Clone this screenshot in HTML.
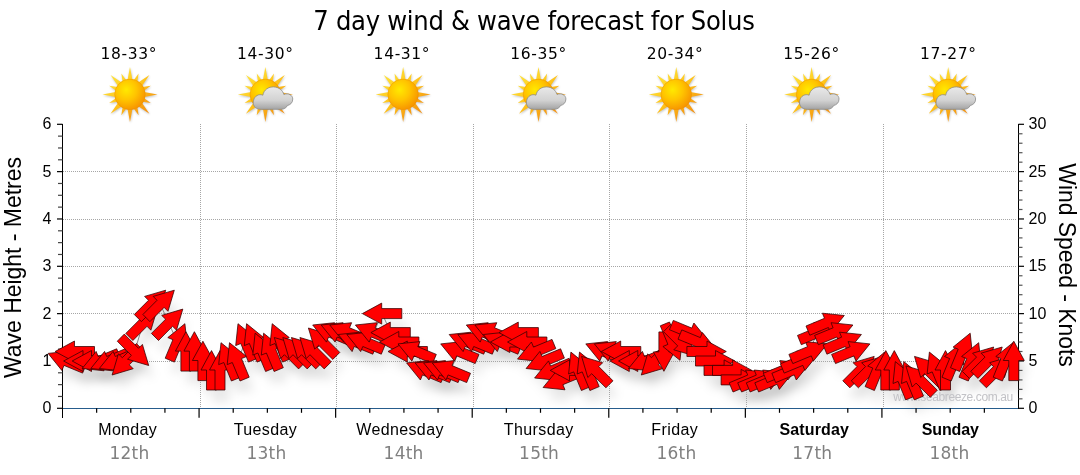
<!DOCTYPE html>
<html lang="en"><head><meta charset="utf-8"><title>7 day wind &amp; wave forecast for Solus</title>
<style>
html,body{margin:0;padding:0;background:#fff;}
body{width:1080px;height:475px;overflow:hidden;}
svg{display:block;}
text{font-family:"Liberation Sans",Arial,sans-serif;fill:#000;}
.v{font-family:"DejaVu Sans",Verdana,"Liberation Sans",sans-serif;}
.t{font-family:"DejaVu Sans Condensed","DejaVu Sans",Tahoma,"Liberation Sans",sans-serif;}
</style></head><body>
<svg width="1080" height="475" viewBox="0 0 1080 475">
<defs>
<radialGradient id="sg" cx="0.38" cy="0.35" r="0.75">
<stop offset="0" stop-color="#ffe900"/><stop offset="0.45" stop-color="#ffc400"/><stop offset="1" stop-color="#f58a00"/>
</radialGradient>
<linearGradient id="rg" x1="0.15" y1="0.1" x2="0.85" y2="0.9">
<stop offset="0" stop-color="#ffe63a"/><stop offset="0.5" stop-color="#ffc21a"/><stop offset="1" stop-color="#f28a10"/>
</linearGradient>
<linearGradient id="cg" x1="0" y1="0" x2="0" y2="1">
<stop offset="0" stop-color="#e9e9e9"/><stop offset="0.6" stop-color="#d2d2d2"/><stop offset="1" stop-color="#a4a4a4"/>
</linearGradient>
<filter id="sh" x="-5%" y="-50%" width="110%" height="220%">
<feGaussianBlur stdDeviation="5"/>
</filter>
<clipPath id="pc"><rect x="63" y="100" width="1017" height="375"/></clipPath>
<filter id="ish" x="-30%" y="-30%" width="160%" height="160%">
<feGaussianBlur stdDeviation="1.2"/>
</filter>

<g id="sun"><polygon points="-2.75,-12.91 0,-27.5 2.75,-12.91 2.79,-12.9 8.61,-20.79 7.15,-11.09 7.18,-11.07 19.45,-19.45 11.07,-7.18 11.09,-7.15 20.79,-8.61 12.9,-2.79 12.91,-2.75 27.5,0 12.91,2.75 12.9,2.79 20.79,8.61 11.09,7.15 11.07,7.18 19.45,19.45 7.18,11.07 7.15,11.09 8.61,20.79 2.79,12.9 2.75,12.91 0,27.5 -2.75,12.91 -2.79,12.9 -8.61,20.79 -7.15,11.09 -7.18,11.07 -19.45,19.45 -11.07,7.18 -11.09,7.15 -20.79,8.61 -12.9,2.79 -12.91,2.75 -27.5,0 -12.91,-2.75 -12.9,-2.79 -20.79,-8.61 -11.09,-7.15 -11.07,-7.18 -19.45,-19.45 -7.18,-11.07 -7.15,-11.09 -8.61,-20.79 -2.79,-12.9" fill="#000" opacity="0.25" filter="url(#ish)" transform="translate(0.5,1)"/><polygon points="-2.75,-12.91 0,-27.5 2.75,-12.91 2.79,-12.9 8.61,-20.79 7.15,-11.09 7.18,-11.07 19.45,-19.45 11.07,-7.18 11.09,-7.15 20.79,-8.61 12.9,-2.79 12.91,-2.75 27.5,0 12.91,2.75 12.9,2.79 20.79,8.61 11.09,7.15 11.07,7.18 19.45,19.45 7.18,11.07 7.15,11.09 8.61,20.79 2.79,12.9 2.75,12.91 0,27.5 -2.75,12.91 -2.79,12.9 -8.61,20.79 -7.15,11.09 -7.18,11.07 -19.45,19.45 -11.07,7.18 -11.09,7.15 -20.79,8.61 -12.9,2.79 -12.91,2.75 -27.5,0 -12.91,-2.75 -12.9,-2.79 -20.79,-8.61 -11.09,-7.15 -11.07,-7.18 -19.45,-19.45 -7.18,-11.07 -7.15,-11.09 -8.61,-20.79 -2.79,-12.9" fill="url(#rg)"/><circle r="15.3" fill="url(#sg)" stroke="#e88a00" stroke-width="0.4"/></g>
<g id="cloud"><path d="M-9,15.3 C-15.5,15.3 -17.5,10 -16.3,6.5 C-15.5,2 -11,-0.5 -7,1.2 C-6,-4.5 -1,-7.3 3.8,-7.1 C9,-7 13,-3.5 14,0.5 C18.5,-1.5 23,1.5 22.9,5 C23,9 20,11 17.5,11.5 C16.5,14 14,15.3 11,15.3 Z" fill="url(#cg)" stroke="#8c8c8c" stroke-width="0.8"/></g>
</defs>
<rect width="1080" height="475" fill="#fff"/>
<text class="t" x="313.3" y="29.6" font-size="27" textLength="441.5" lengthAdjust="spacing">7 day wind &amp; wave forecast for Solus</text>
<text class="v" x="100.49" y="59" font-size="15.5" textLength="56" lengthAdjust="spacing">18-33°</text>
<use href="#sun" x="129.98" y="94.4"/>
<text class="v" x="237.06" y="59" font-size="15.5" textLength="56" lengthAdjust="spacing">14-30°</text>
<use href="#sun" x="265.36" y="94.4"/>
<use href="#cloud" x="269.86" y="94"/>
<text class="v" x="373.62" y="59" font-size="15.5" textLength="56" lengthAdjust="spacing">14-31°</text>
<use href="#sun" x="403.12" y="94.4"/>
<text class="v" x="510.19" y="59" font-size="15.5" textLength="56" lengthAdjust="spacing">16-35°</text>
<use href="#sun" x="538.5" y="94.4"/>
<use href="#cloud" x="543" y="94"/>
<text class="v" x="646.76" y="59" font-size="15.5" textLength="56" lengthAdjust="spacing">20-34°</text>
<use href="#sun" x="676.26" y="94.4"/>
<text class="v" x="783.33" y="59" font-size="15.5" textLength="56" lengthAdjust="spacing">15-26°</text>
<use href="#sun" x="811.63" y="94.4"/>
<use href="#cloud" x="816.13" y="94"/>
<text class="v" x="919.9" y="59" font-size="15.5" textLength="56" lengthAdjust="spacing">17-27°</text>
<use href="#sun" x="948.2" y="94.4"/>
<use href="#cloud" x="952.7" y="94"/>
<g clip-path="url(#pc)"><g transform="translate(5,12.5)" filter="url(#sh)" fill="#000" fill-opacity="0.075"><polygon points="48.1,353.4 70,351.1 67.9,356.2 86.4,363.8 82.6,373.1 64,365.4 61.9,370.5"/><polygon points="55.1,351.5 74.5,341 74.5,346.5 94.5,346.5 94.5,356.5 74.5,356.5 74.5,362"/><polygon points="63.6,361 83,350.5 83,356 103,356 103,366 83,366 83,371.5"/><polygon points="72.2,361 91.5,350.5 91.5,356 111.6,356 111.6,366 91.5,366 91.5,371.5"/><polygon points="82.2,368.5 96.1,351.4 98.2,356.5 116.7,348.8 120.5,358.1 102,365.8 104.1,370.8"/><polygon points="90.8,368.5 104.6,351.4 106.7,356.5 125.2,348.8 129.1,358.1 110.5,365.8 112.6,370.8"/><polygon points="99.3,368.5 113.1,351.4 115.3,356.5 133.8,348.8 137.6,358.1 119.1,365.8 121.2,370.8"/><polygon points="112.1,375 118.4,353.9 122.3,357.7 136.4,343.6 143.5,350.6 129.3,364.8 133.2,368.7"/><polygon points="148.7,365.5 127.5,359.2 131.4,355.4 117.3,341.2 124.3,334.1 138.5,348.3 142.4,344.4"/><polygon points="157.2,309.1 150.9,330.2 147,326.3 132.9,340.5 125.8,333.4 140,319.2 136.1,315.4"/><polygon points="165.7,290.2 159.5,311.3 155.6,307.4 141.4,321.6 134.3,314.5 148.5,300.3 144.6,296.4"/><polygon points="174.3,290.2 168,311.3 164.1,307.4 149.9,321.6 142.9,314.5 157,300.3 153.2,296.4"/><polygon points="182.8,309.1 176.5,330.2 172.6,326.3 158.5,340.5 151.4,333.4 165.6,319.2 161.7,315.4"/><polygon points="184.9,323.7 187.2,345.6 182.1,343.5 174.4,362.1 165.2,358.2 172.9,339.7 167.8,337.6"/><polygon points="185.9,331.7 196.4,351.1 190.9,351.1 190.9,371.1 180.9,371.1 180.9,351.1 175.4,351.1"/><polygon points="194.4,331.7 204.9,351.1 199.4,351.1 199.4,371.1 189.4,371.1 189.4,351.1 183.9,351.1"/><polygon points="202.9,341.2 213.4,360.5 207.9,360.5 207.9,380.6 197.9,380.6 197.9,360.5 192.4,360.5"/><polygon points="211.5,350.6 222,370 216.5,370 216.5,390 206.5,390 206.5,370 201,370"/><polygon points="220,350.6 230.5,370 225,370 225,390 215,390 215,370 209.5,370"/><polygon points="221,342.7 238.1,356.5 233,358.6 240.7,377.2 231.4,381 223.8,362.5 218.7,364.6"/><polygon points="229.5,342.7 246.6,356.5 241.5,358.6 249.2,377.2 240,381 232.3,362.5 227.2,364.6"/><polygon points="238,323.7 255.1,337.6 250.1,339.7 257.7,358.2 248.5,362.1 240.8,343.5 235.7,345.6"/><polygon points="246.6,323.7 263.7,337.6 258.6,339.7 266.3,358.2 257,362.1 249.4,343.5 244.3,345.6"/><polygon points="255.1,333.2 272.2,347.1 267.1,349.2 274.8,367.7 265.6,371.5 257.9,353 252.8,355.1"/><polygon points="263.6,333.2 280.8,347.1 275.7,349.2 283.3,367.7 274.1,371.5 266.4,353 261.3,355.1"/><polygon points="272.2,323.7 289.3,337.6 284.2,339.7 291.9,358.2 282.6,362.1 275,343.5 269.9,345.6"/><polygon points="274.3,337.5 295.4,343.8 291.5,347.6 305.7,361.8 298.6,368.9 284.4,354.7 280.6,358.6"/><polygon points="282.8,337.5 303.9,343.8 300,347.6 314.2,361.8 307.2,368.9 293,354.7 289.1,358.6"/><polygon points="291.4,337.5 312.5,343.8 308.6,347.6 322.8,361.8 315.7,368.9 301.5,354.7 297.6,358.6"/><polygon points="299.9,337.5 321,343.8 317.1,347.6 331.3,361.8 324.2,368.9 310,354.7 306.2,358.6"/><polygon points="308.4,328 329.5,334.3 325.7,338.2 339.8,352.4 332.8,359.4 318.6,345.3 314.7,349.1"/><polygon points="312.7,325 334.6,322.7 332.5,327.8 351,335.4 347.2,344.7 328.6,337 326.5,342.1"/><polygon points="321.2,325 343.1,322.7 341,327.8 359.5,335.4 355.7,344.7 337.2,337 335.1,342.1"/><polygon points="329.8,325 351.6,322.7 349.5,327.8 368.1,335.4 364.2,344.7 345.7,337 343.6,342.1"/><polygon points="338.3,334.5 360.2,332.2 358.1,337.2 376.6,344.9 372.8,354.2 354.2,346.5 352.1,351.6"/><polygon points="346.8,334.5 368.7,332.2 366.6,337.2 385.1,344.9 381.3,354.2 362.8,346.5 360.7,351.6"/><polygon points="355.4,325 377.3,322.7 375.1,327.8 393.7,335.4 389.8,344.7 371.3,337 369.2,342.1"/><polygon points="362.4,313.6 381.7,303.1 381.7,308.6 401.8,308.6 401.8,318.6 381.7,318.6 381.7,324.1"/><polygon points="370.9,332.6 390.3,322.1 390.3,327.6 410.3,327.6 410.3,337.6 390.3,337.6 390.3,343.1"/><polygon points="379.5,342 398.8,331.5 398.8,337 418.9,337 418.9,347 398.8,347 398.8,352.5"/><polygon points="388,351.5 407.3,341 407.3,346.5 427.4,346.5 427.4,356.5 407.3,356.5 407.3,362"/><polygon points="398,343.9 419.9,341.6 417.8,346.7 436.3,354.4 432.5,363.6 414,355.9 411.9,361"/><polygon points="406.6,362.9 428.5,360.6 426.4,365.6 444.9,373.3 441.1,382.6 422.5,374.9 420.4,380"/><polygon points="415.1,362.9 437,360.6 434.9,365.6 453.4,373.3 449.6,382.6 431.1,374.9 429,380"/><polygon points="423.6,362.9 445.5,360.6 443.4,365.6 462,373.3 458.1,382.6 439.6,374.9 437.5,380"/><polygon points="432.2,362.9 454.1,360.6 452,365.6 470.5,373.3 466.7,382.6 448.1,374.9 446,380"/><polygon points="440.7,343.9 462.6,341.6 460.5,346.7 479,354.4 475.2,363.6 456.7,355.9 454.6,361"/><polygon points="449.2,334.5 471.1,332.2 469,337.2 487.6,344.9 483.7,354.2 465.2,346.5 463.1,351.6"/><polygon points="457.8,334.5 479.7,332.2 477.6,337.2 496.1,344.9 492.3,354.2 473.7,346.5 471.6,351.6"/><polygon points="466.3,325 488.2,322.7 486.1,327.8 504.6,335.4 500.8,344.7 482.3,337 480.2,342.1"/><polygon points="474.9,325 496.8,322.7 494.6,327.8 513.2,335.4 509.3,344.7 490.8,337 488.7,342.1"/><polygon points="483.4,334.5 505.3,332.2 503.2,337.2 521.7,344.9 517.9,354.2 499.4,346.5 497.3,351.6"/><polygon points="490.4,342 509.8,331.5 509.8,337 529.8,337 529.8,347 509.8,347 509.8,352.5"/><polygon points="499,332.6 518.3,322.1 518.3,327.6 538.4,327.6 538.4,337.6 518.3,337.6 518.3,343.1"/><polygon points="507.5,342 526.8,331.5 526.8,337 546.9,337 546.9,347 526.8,347 526.8,352.5"/><polygon points="517.5,359.1 531.4,342 533.5,347.1 552,339.4 555.8,348.6 537.3,356.3 539.4,361.4"/><polygon points="526.1,368.5 539.9,351.4 542,356.5 560.6,348.8 564.4,358.1 545.9,365.8 548,370.8"/><polygon points="534.6,378 548.5,360.9 550.6,366 569.1,358.3 572.9,367.6 554.4,375.2 556.5,380.3"/><polygon points="543.1,387.5 557,370.4 559.1,375.5 577.6,367.8 581.5,377 562.9,384.7 565,389.8"/><polygon points="550.2,370.4 569.5,359.9 569.5,365.4 589.6,365.4 589.6,375.4 569.5,375.4 569.5,380.9"/><polygon points="570.9,352.1 588,366 583,368.1 590.6,386.6 581.4,390.5 573.7,371.9 568.6,374"/><polygon points="579.5,352.1 596.6,366 591.5,368.1 599.2,386.6 589.9,390.5 582.2,371.9 577.2,374"/><polygon points="581.6,356.4 602.7,362.7 598.8,366.6 613,380.8 605.9,387.8 591.7,373.7 587.8,377.5"/><polygon points="585.8,343.9 607.7,341.6 605.6,346.7 624.1,354.4 620.3,363.6 601.8,355.9 599.7,361"/><polygon points="594.4,343.9 616.3,341.6 614.1,346.7 632.7,354.4 628.8,363.6 610.3,355.9 608.2,361"/><polygon points="601.4,351.5 620.7,341 620.7,346.5 640.8,346.5 640.8,356.5 620.7,356.5 620.7,362"/><polygon points="609.9,361 629.3,350.5 629.3,356 649.3,356 649.3,366 629.3,366 629.3,371.5"/><polygon points="618.5,361 637.8,350.5 637.8,356 657.9,356 657.9,366 637.8,366 637.8,371.5"/><polygon points="628.5,368.5 642.4,351.4 644.5,356.5 663,348.8 666.8,358.1 648.3,365.8 650.4,370.8"/><polygon points="641.3,375 647.6,353.9 651.5,357.7 665.6,343.6 672.7,350.6 658.5,364.8 662.4,368.7"/><polygon points="663.9,371.3 653.4,351.9 658.9,351.9 658.9,331.9 668.9,331.9 668.9,351.9 674.4,351.9"/><polygon points="680,360.3 662.9,346.5 667.9,344.4 660.3,325.8 669.5,322 677.2,340.5 682.3,338.4"/><polygon points="694.9,356 673.8,349.8 677.7,345.9 663.5,331.7 670.6,324.6 684.8,338.8 688.7,334.9"/><polygon points="707.8,340.1 685.9,342.4 688,337.4 669.4,329.7 673.3,320.4 691.8,328.1 693.9,323"/><polygon points="716.3,349.6 694.4,351.9 696.5,346.8 678,339.2 681.8,329.9 700.3,337.6 702.4,332.5"/><polygon points="726.3,351.5 707,362 707,356.5 686.9,356.5 686.9,346.5 707,346.5 707,341"/><polygon points="734.9,361 715.5,371.5 715.5,366 695.5,366 695.5,356 715.5,356 715.5,350.5"/><polygon points="743.4,370.4 724.1,380.9 724.1,375.4 704,375.4 704,365.4 724.1,365.4 724.1,359.9"/><polygon points="751.9,370.4 732.6,380.9 732.6,375.4 712.5,375.4 712.5,365.4 732.6,365.4 732.6,359.9"/><polygon points="760.5,379.9 741.1,390.4 741.1,384.9 721.1,384.9 721.1,374.9 741.1,374.9 741.1,369.4"/><polygon points="767.5,372.3 753.7,389.4 751.5,384.3 733,392 729.2,382.8 747.7,375.1 745.6,370"/><polygon points="776,372.3 762.2,389.4 760.1,384.3 741.6,392 737.7,382.8 756.3,375.1 754.2,370"/><polygon points="784.6,372.3 770.7,389.4 768.6,384.3 750.1,392 746.3,382.8 764.8,375.1 762.7,370"/><polygon points="793.1,372.3 779.3,389.4 777.2,384.3 758.6,392 754.8,382.8 773.3,375.1 771.2,370"/><polygon points="801.7,362.9 787.8,380 785.7,374.9 767.2,382.6 763.3,373.3 781.9,365.6 779.8,360.6"/><polygon points="810.2,362.9 796.3,380 794.2,374.9 775.7,382.6 771.9,373.3 790.4,365.6 788.3,360.6"/><polygon points="818.7,353.4 804.9,370.5 802.8,365.4 784.2,373.1 780.4,363.8 798.9,356.2 796.8,351.1"/><polygon points="827.3,343.9 813.4,361 811.3,355.9 792.8,363.6 788.9,354.4 807.5,346.7 805.4,341.6"/><polygon points="835.8,325 821.9,342.1 819.8,337 801.3,344.7 797.5,335.4 816,327.8 813.9,322.7"/><polygon points="844.3,315.5 830.5,332.6 828.4,327.5 809.8,335.2 806,326 824.5,318.3 822.4,313.2"/><polygon points="852.9,325 839,342.1 836.9,337 818.4,344.7 814.6,335.4 833.1,327.8 831,322.7"/><polygon points="861.4,334.5 847.5,351.6 845.4,346.5 826.9,354.2 823.1,344.9 841.6,337.2 839.5,332.2"/><polygon points="869.9,343.9 856.1,361 854,355.9 835.5,363.6 831.6,354.4 850.1,346.7 848,341.6"/><polygon points="874.2,356.4 867.9,377.5 864,373.7 849.9,387.8 842.8,380.8 857,366.6 853.1,362.7"/><polygon points="882.7,356.4 876.5,377.5 872.6,373.7 858.4,387.8 851.3,380.8 865.5,366.6 861.6,362.7"/><polygon points="884.8,352.1 887.1,374 882,371.9 874.4,390.5 865.1,386.6 872.8,368.1 867.7,366"/><polygon points="885.8,350.6 896.3,370 890.8,370 890.8,390 880.8,390 880.8,370 875.3,370"/><polygon points="894.3,350.6 904.8,370 899.3,370 899.3,390 889.3,390 889.3,370 883.8,370"/><polygon points="895.3,361.6 912.4,375.5 907.3,377.6 915,396.1 905.7,399.9 898.1,381.4 893,383.5"/><polygon points="903.8,361.6 920.9,375.5 915.8,377.6 923.5,396.1 914.3,399.9 906.6,381.4 901.5,383.5"/><polygon points="905.9,365.9 927,372.2 923.1,376 937.3,390.2 930.3,397.3 916.1,383.1 912.2,387"/><polygon points="914.5,356.4 935.6,362.7 931.7,366.6 945.9,380.8 938.8,387.8 924.6,373.7 920.7,377.5"/><polygon points="929.4,352.1 946.5,366 941.4,368.1 949.1,386.6 939.9,390.5 932.2,371.9 927.1,374"/><polygon points="945.5,350.6 956,370 950.5,370 950.5,390 940.5,390 940.5,370 935,370"/><polygon points="961.6,342.7 963.9,364.6 958.9,362.5 951.2,381 942,377.2 949.6,358.6 944.5,356.5"/><polygon points="970.2,333.2 972.5,355.1 967.4,353 959.7,371.5 950.5,367.7 958.2,349.2 953.1,347.1"/><polygon points="978.7,342.7 981,364.6 975.9,362.5 968.3,381 959,377.2 966.7,358.6 961.6,356.5"/><polygon points="993.7,347 987.4,368.1 983.5,364.2 969.4,378.4 962.3,371.3 976.5,357.1 972.6,353.2"/><polygon points="1002.2,347 996,368.1 992.1,364.2 977.9,378.4 970.8,371.3 985,357.1 981.1,353.2"/><polygon points="1010.8,356.4 1004.5,377.5 1000.6,373.7 986.4,387.8 979.4,380.8 993.5,366.6 989.6,362.7"/><polygon points="1012.9,342.7 1015.2,364.6 1010.1,362.5 1002.4,381 993.2,377.2 1000.8,358.6 995.8,356.5"/><polygon points="1013.8,341.2 1024.3,360.5 1018.8,360.5 1018.8,380.6 1008.8,380.6 1008.8,360.5 1003.3,360.5"/></g></g>
<g stroke="#a6a6a6" stroke-width="1" stroke-dasharray="1 1" fill="none" shape-rendering="crispEdges"><line x1="63" y1="171.5" x2="1017" y2="171.5"/><line x1="63" y1="219.5" x2="1017" y2="219.5"/><line x1="63" y1="266.5" x2="1017" y2="266.5"/><line x1="63" y1="313.5" x2="1017" y2="313.5"/><line x1="63" y1="361.5" x2="1017" y2="361.5"/><line x1="200.5" y1="124" x2="200.5" y2="408"/><line x1="336.5" y1="124" x2="336.5" y2="408"/><line x1="473.5" y1="124" x2="473.5" y2="408"/><line x1="609.5" y1="124" x2="609.5" y2="408"/><line x1="746.5" y1="124" x2="746.5" y2="408"/><line x1="883.5" y1="124" x2="883.5" y2="408"/></g>
<g stroke-width="1" fill="none" shape-rendering="crispEdges"><line x1="62.5" y1="124" x2="62.5" y2="418" stroke="#000"/><line x1="1018.5" y1="124" x2="1018.5" y2="409" stroke="#000"/><line x1="63" y1="408.5" x2="1018" y2="408.5" stroke="#265c8c"/></g>
<g stroke-width="1.2" fill="none"><line x1="57" y1="408.3" x2="62.5" y2="408.3" stroke="#000"/><line x1="58" y1="396.47" x2="62.5" y2="396.47" stroke="#444"/><line x1="58" y1="384.63" x2="62.5" y2="384.63" stroke="#444"/><line x1="58" y1="372.8" x2="62.5" y2="372.8" stroke="#444"/><line x1="57" y1="360.97" x2="62.5" y2="360.97" stroke="#000"/><line x1="58" y1="349.13" x2="62.5" y2="349.13" stroke="#444"/><line x1="58" y1="337.3" x2="62.5" y2="337.3" stroke="#444"/><line x1="58" y1="325.47" x2="62.5" y2="325.47" stroke="#444"/><line x1="57" y1="313.63" x2="62.5" y2="313.63" stroke="#000"/><line x1="58" y1="301.8" x2="62.5" y2="301.8" stroke="#444"/><line x1="58" y1="289.97" x2="62.5" y2="289.97" stroke="#444"/><line x1="58" y1="278.13" x2="62.5" y2="278.13" stroke="#444"/><line x1="57" y1="266.3" x2="62.5" y2="266.3" stroke="#000"/><line x1="58" y1="254.47" x2="62.5" y2="254.47" stroke="#444"/><line x1="58" y1="242.63" x2="62.5" y2="242.63" stroke="#444"/><line x1="58" y1="230.8" x2="62.5" y2="230.8" stroke="#444"/><line x1="57" y1="218.97" x2="62.5" y2="218.97" stroke="#000"/><line x1="58" y1="207.13" x2="62.5" y2="207.13" stroke="#444"/><line x1="58" y1="195.3" x2="62.5" y2="195.3" stroke="#444"/><line x1="58" y1="183.47" x2="62.5" y2="183.47" stroke="#444"/><line x1="57" y1="171.63" x2="62.5" y2="171.63" stroke="#000"/><line x1="58" y1="159.8" x2="62.5" y2="159.8" stroke="#444"/><line x1="58" y1="147.97" x2="62.5" y2="147.97" stroke="#444"/><line x1="58" y1="136.13" x2="62.5" y2="136.13" stroke="#444"/><line x1="57" y1="124.3" x2="62.5" y2="124.3" stroke="#000"/><line x1="1018.49" y1="408.3" x2="1023.99" y2="408.3" stroke="#000"/><line x1="1018.49" y1="398.83" x2="1022.49" y2="398.83" stroke="#555"/><line x1="1018.49" y1="389.37" x2="1022.49" y2="389.37" stroke="#555"/><line x1="1018.49" y1="379.9" x2="1022.49" y2="379.9" stroke="#555"/><line x1="1018.49" y1="370.43" x2="1022.49" y2="370.43" stroke="#555"/><line x1="1018.49" y1="360.97" x2="1023.99" y2="360.97" stroke="#000"/><line x1="1018.49" y1="351.5" x2="1022.49" y2="351.5" stroke="#555"/><line x1="1018.49" y1="342.03" x2="1022.49" y2="342.03" stroke="#555"/><line x1="1018.49" y1="332.57" x2="1022.49" y2="332.57" stroke="#555"/><line x1="1018.49" y1="323.1" x2="1022.49" y2="323.1" stroke="#555"/><line x1="1018.49" y1="313.63" x2="1023.99" y2="313.63" stroke="#000"/><line x1="1018.49" y1="304.17" x2="1022.49" y2="304.17" stroke="#555"/><line x1="1018.49" y1="294.7" x2="1022.49" y2="294.7" stroke="#555"/><line x1="1018.49" y1="285.23" x2="1022.49" y2="285.23" stroke="#555"/><line x1="1018.49" y1="275.77" x2="1022.49" y2="275.77" stroke="#555"/><line x1="1018.49" y1="266.3" x2="1023.99" y2="266.3" stroke="#000"/><line x1="1018.49" y1="256.83" x2="1022.49" y2="256.83" stroke="#555"/><line x1="1018.49" y1="247.37" x2="1022.49" y2="247.37" stroke="#555"/><line x1="1018.49" y1="237.9" x2="1022.49" y2="237.9" stroke="#555"/><line x1="1018.49" y1="228.43" x2="1022.49" y2="228.43" stroke="#555"/><line x1="1018.49" y1="218.97" x2="1023.99" y2="218.97" stroke="#000"/><line x1="1018.49" y1="209.5" x2="1022.49" y2="209.5" stroke="#555"/><line x1="1018.49" y1="200.03" x2="1022.49" y2="200.03" stroke="#555"/><line x1="1018.49" y1="190.57" x2="1022.49" y2="190.57" stroke="#555"/><line x1="1018.49" y1="181.1" x2="1022.49" y2="181.1" stroke="#555"/><line x1="1018.49" y1="171.63" x2="1023.99" y2="171.63" stroke="#000"/><line x1="1018.49" y1="162.17" x2="1022.49" y2="162.17" stroke="#555"/><line x1="1018.49" y1="152.7" x2="1022.49" y2="152.7" stroke="#555"/><line x1="1018.49" y1="143.23" x2="1022.49" y2="143.23" stroke="#555"/><line x1="1018.49" y1="133.77" x2="1022.49" y2="133.77" stroke="#555"/><line x1="1018.49" y1="124.3" x2="1023.99" y2="124.3" stroke="#000"/><line x1="96.64" y1="408.3" x2="96.64" y2="412.8" stroke="#000"/><line x1="130.78" y1="408.3" x2="130.78" y2="412.8" stroke="#000"/><line x1="164.93" y1="408.3" x2="164.93" y2="412.8" stroke="#000"/><line x1="199.07" y1="408.3" x2="199.07" y2="417.8" stroke="#000"/><line x1="233.21" y1="408.3" x2="233.21" y2="412.8" stroke="#000"/><line x1="267.36" y1="408.3" x2="267.36" y2="412.8" stroke="#000"/><line x1="301.5" y1="408.3" x2="301.5" y2="412.8" stroke="#000"/><line x1="335.64" y1="408.3" x2="335.64" y2="417.8" stroke="#000"/><line x1="369.78" y1="408.3" x2="369.78" y2="412.8" stroke="#000"/><line x1="403.92" y1="408.3" x2="403.92" y2="412.8" stroke="#000"/><line x1="438.07" y1="408.3" x2="438.07" y2="412.8" stroke="#000"/><line x1="472.21" y1="408.3" x2="472.21" y2="417.8" stroke="#000"/><line x1="506.35" y1="408.3" x2="506.35" y2="412.8" stroke="#000"/><line x1="540.5" y1="408.3" x2="540.5" y2="412.8" stroke="#000"/><line x1="574.64" y1="408.3" x2="574.64" y2="412.8" stroke="#000"/><line x1="608.78" y1="408.3" x2="608.78" y2="417.8" stroke="#000"/><line x1="642.92" y1="408.3" x2="642.92" y2="412.8" stroke="#000"/><line x1="677.06" y1="408.3" x2="677.06" y2="412.8" stroke="#000"/><line x1="711.21" y1="408.3" x2="711.21" y2="412.8" stroke="#000"/><line x1="745.35" y1="408.3" x2="745.35" y2="417.8" stroke="#000"/><line x1="779.49" y1="408.3" x2="779.49" y2="412.8" stroke="#000"/><line x1="813.63" y1="408.3" x2="813.63" y2="412.8" stroke="#000"/><line x1="847.78" y1="408.3" x2="847.78" y2="412.8" stroke="#000"/><line x1="881.92" y1="408.3" x2="881.92" y2="417.8" stroke="#000"/><line x1="916.06" y1="408.3" x2="916.06" y2="412.8" stroke="#000"/><line x1="950.2" y1="408.3" x2="950.2" y2="412.8" stroke="#000"/><line x1="984.35" y1="408.3" x2="984.35" y2="412.8" stroke="#000"/></g>
<text x="51.5" y="413.3" font-size="16" text-anchor="end">0</text>
<text x="51.5" y="365.97" font-size="16" text-anchor="end">1</text>
<text x="51.5" y="318.63" font-size="16" text-anchor="end">2</text>
<text x="51.5" y="271.3" font-size="16" text-anchor="end">3</text>
<text x="51.5" y="223.97" font-size="16" text-anchor="end">4</text>
<text x="51.5" y="176.63" font-size="16" text-anchor="end">5</text>
<text x="51.5" y="129.3" font-size="16" text-anchor="end">6</text>
<text x="1028.5" y="413.3" font-size="16">0</text>
<text x="1028.5" y="365.97" font-size="16">5</text>
<text x="1028.5" y="318.63" font-size="16">10</text>
<text x="1028.5" y="271.3" font-size="16">15</text>
<text x="1028.5" y="223.97" font-size="16">20</text>
<text x="1028.5" y="176.63" font-size="16">25</text>
<text x="1028.5" y="129.3" font-size="16">30</text>
<text font-size="23" textLength="221" lengthAdjust="spacing" transform="translate(20.5,378) rotate(-90)">Wave Height - Metres</text>
<text font-size="23" textLength="203.5" lengthAdjust="spacing" transform="translate(1058.7,163.3) rotate(90)">Wind Speed - Knots</text>
<text x="98.3" y="435" font-size="16" textLength="58.4" lengthAdjust="spacing">Monday</text>
<text x="233.8" y="435" font-size="16" textLength="62.9" lengthAdjust="spacing">Tuesday</text>
<text x="356.2" y="435" font-size="16" textLength="87.2" lengthAdjust="spacing">Wednesday</text>
<text x="503.8" y="435" font-size="16" textLength="69.5" lengthAdjust="spacing">Thursday</text>
<text x="651.3" y="435" font-size="16" textLength="46.5" lengthAdjust="spacing">Friday</text>
<text x="779.5" y="435" font-size="16" textLength="69.3" lengthAdjust="spacing" font-weight="bold">Saturday</text>
<text x="921.7" y="435" font-size="16" textLength="57.2" lengthAdjust="spacing" font-weight="bold">Sunday</text>
<text class="v" x="109.4" y="459" font-size="17" textLength="39.8" lengthAdjust="spacing" style="fill:#808080">12th</text>
<text class="v" x="246.4" y="459" font-size="17" textLength="39.8" lengthAdjust="spacing" style="fill:#808080">13th</text>
<text class="v" x="383.6" y="459" font-size="17" textLength="39.8" lengthAdjust="spacing" style="fill:#808080">14th</text>
<text class="v" x="519.1" y="459" font-size="17" textLength="39.8" lengthAdjust="spacing" style="fill:#808080">15th</text>
<text class="v" x="656.4" y="459" font-size="17" textLength="39.8" lengthAdjust="spacing" style="fill:#808080">16th</text>
<text class="v" x="792.3" y="459" font-size="17" textLength="39.8" lengthAdjust="spacing" style="fill:#808080">17th</text>
<text class="v" x="929.4" y="459" font-size="17" textLength="39.8" lengthAdjust="spacing" style="fill:#808080">18th</text>
<text x="893.2" y="401" font-size="12" textLength="120" lengthAdjust="spacing" style="fill:#c2c2c6">www.seabreeze.com.au</text>
<polyline points="66.4,361 74.9,351.5 83.4,361 92,361 100.5,361 109,361 117.6,361 126.1,361 134.7,351.5 143.2,323.1 151.7,304.2 160.3,304.2 168.8,323.1 177.3,342 185.9,351.5 194.4,351.5 202.9,361 211.5,370.4 220,370.4 228.5,361 237.1,361 245.6,342 254.2,342 262.7,351.5 271.2,351.5 279.8,342 288.3,351.5 296.8,351.5 305.4,351.5 313.9,351.5 322.4,342 331,332.6 339.5,332.6 348,332.6 356.6,342 365.1,342 373.7,332.6 382.2,313.6 390.7,332.6 399.3,342 407.8,351.5 416.3,351.5 424.9,370.4 433.4,370.4 441.9,370.4 450.5,370.4 459,351.5 467.5,342 476.1,342 484.6,332.6 493.1,332.6 501.7,342 510.2,342 518.8,332.6 527.3,342 535.8,351.5 544.4,361 552.9,370.4 561.4,379.9 570,370.4 578.5,370.4 587,370.4 595.6,370.4 604.1,351.5 612.6,351.5 621.2,351.5 629.7,361 638.3,361 646.8,361 655.3,361 663.9,351.5 672.4,342 680.9,342 689.5,332.6 698,342 706.5,351.5 715.1,361 723.6,370.4 732.1,370.4 740.7,379.9 749.2,379.9 757.8,379.9 766.3,379.9 774.8,379.9 783.4,370.4 791.9,370.4 800.4,361 809,351.5 817.5,332.6 826,323.1 834.6,332.6 843.1,342 851.6,351.5 860.2,370.4 868.7,370.4 877.3,370.4 885.8,370.4 894.3,370.4 902.9,379.9 911.4,379.9 919.9,379.9 928.5,370.4 937,370.4 945.5,370.4 954.1,361 962.6,351.5 971.1,361 979.7,361 988.2,361 996.8,370.4 1005.3,361 1013.8,361" fill="none" stroke="#888" stroke-width="1"/>
<g fill="#ff0000" stroke="#300000" stroke-width="0.75" stroke-linejoin="miter"><polygon points="48.1,353.4 70,351.1 67.9,356.2 86.4,363.8 82.6,373.1 64,365.4 61.9,370.5"/><polygon points="55.1,351.5 74.5,341 74.5,346.5 94.5,346.5 94.5,356.5 74.5,356.5 74.5,362"/><polygon points="63.6,361 83,350.5 83,356 103,356 103,366 83,366 83,371.5"/><polygon points="72.2,361 91.5,350.5 91.5,356 111.6,356 111.6,366 91.5,366 91.5,371.5"/><polygon points="82.2,368.5 96.1,351.4 98.2,356.5 116.7,348.8 120.5,358.1 102,365.8 104.1,370.8"/><polygon points="90.8,368.5 104.6,351.4 106.7,356.5 125.2,348.8 129.1,358.1 110.5,365.8 112.6,370.8"/><polygon points="99.3,368.5 113.1,351.4 115.3,356.5 133.8,348.8 137.6,358.1 119.1,365.8 121.2,370.8"/><polygon points="112.1,375 118.4,353.9 122.3,357.7 136.4,343.6 143.5,350.6 129.3,364.8 133.2,368.7"/><polygon points="148.7,365.5 127.5,359.2 131.4,355.4 117.3,341.2 124.3,334.1 138.5,348.3 142.4,344.4"/><polygon points="157.2,309.1 150.9,330.2 147,326.3 132.9,340.5 125.8,333.4 140,319.2 136.1,315.4"/><polygon points="165.7,290.2 159.5,311.3 155.6,307.4 141.4,321.6 134.3,314.5 148.5,300.3 144.6,296.4"/><polygon points="174.3,290.2 168,311.3 164.1,307.4 149.9,321.6 142.9,314.5 157,300.3 153.2,296.4"/><polygon points="182.8,309.1 176.5,330.2 172.6,326.3 158.5,340.5 151.4,333.4 165.6,319.2 161.7,315.4"/><polygon points="184.9,323.7 187.2,345.6 182.1,343.5 174.4,362.1 165.2,358.2 172.9,339.7 167.8,337.6"/><polygon points="185.9,331.7 196.4,351.1 190.9,351.1 190.9,371.1 180.9,371.1 180.9,351.1 175.4,351.1"/><polygon points="194.4,331.7 204.9,351.1 199.4,351.1 199.4,371.1 189.4,371.1 189.4,351.1 183.9,351.1"/><polygon points="202.9,341.2 213.4,360.5 207.9,360.5 207.9,380.6 197.9,380.6 197.9,360.5 192.4,360.5"/><polygon points="211.5,350.6 222,370 216.5,370 216.5,390 206.5,390 206.5,370 201,370"/><polygon points="220,350.6 230.5,370 225,370 225,390 215,390 215,370 209.5,370"/><polygon points="221,342.7 238.1,356.5 233,358.6 240.7,377.2 231.4,381 223.8,362.5 218.7,364.6"/><polygon points="229.5,342.7 246.6,356.5 241.5,358.6 249.2,377.2 240,381 232.3,362.5 227.2,364.6"/><polygon points="238,323.7 255.1,337.6 250.1,339.7 257.7,358.2 248.5,362.1 240.8,343.5 235.7,345.6"/><polygon points="246.6,323.7 263.7,337.6 258.6,339.7 266.3,358.2 257,362.1 249.4,343.5 244.3,345.6"/><polygon points="255.1,333.2 272.2,347.1 267.1,349.2 274.8,367.7 265.6,371.5 257.9,353 252.8,355.1"/><polygon points="263.6,333.2 280.8,347.1 275.7,349.2 283.3,367.7 274.1,371.5 266.4,353 261.3,355.1"/><polygon points="272.2,323.7 289.3,337.6 284.2,339.7 291.9,358.2 282.6,362.1 275,343.5 269.9,345.6"/><polygon points="274.3,337.5 295.4,343.8 291.5,347.6 305.7,361.8 298.6,368.9 284.4,354.7 280.6,358.6"/><polygon points="282.8,337.5 303.9,343.8 300,347.6 314.2,361.8 307.2,368.9 293,354.7 289.1,358.6"/><polygon points="291.4,337.5 312.5,343.8 308.6,347.6 322.8,361.8 315.7,368.9 301.5,354.7 297.6,358.6"/><polygon points="299.9,337.5 321,343.8 317.1,347.6 331.3,361.8 324.2,368.9 310,354.7 306.2,358.6"/><polygon points="308.4,328 329.5,334.3 325.7,338.2 339.8,352.4 332.8,359.4 318.6,345.3 314.7,349.1"/><polygon points="312.7,325 334.6,322.7 332.5,327.8 351,335.4 347.2,344.7 328.6,337 326.5,342.1"/><polygon points="321.2,325 343.1,322.7 341,327.8 359.5,335.4 355.7,344.7 337.2,337 335.1,342.1"/><polygon points="329.8,325 351.6,322.7 349.5,327.8 368.1,335.4 364.2,344.7 345.7,337 343.6,342.1"/><polygon points="338.3,334.5 360.2,332.2 358.1,337.2 376.6,344.9 372.8,354.2 354.2,346.5 352.1,351.6"/><polygon points="346.8,334.5 368.7,332.2 366.6,337.2 385.1,344.9 381.3,354.2 362.8,346.5 360.7,351.6"/><polygon points="355.4,325 377.3,322.7 375.1,327.8 393.7,335.4 389.8,344.7 371.3,337 369.2,342.1"/><polygon points="362.4,313.6 381.7,303.1 381.7,308.6 401.8,308.6 401.8,318.6 381.7,318.6 381.7,324.1"/><polygon points="370.9,332.6 390.3,322.1 390.3,327.6 410.3,327.6 410.3,337.6 390.3,337.6 390.3,343.1"/><polygon points="379.5,342 398.8,331.5 398.8,337 418.9,337 418.9,347 398.8,347 398.8,352.5"/><polygon points="388,351.5 407.3,341 407.3,346.5 427.4,346.5 427.4,356.5 407.3,356.5 407.3,362"/><polygon points="398,343.9 419.9,341.6 417.8,346.7 436.3,354.4 432.5,363.6 414,355.9 411.9,361"/><polygon points="406.6,362.9 428.5,360.6 426.4,365.6 444.9,373.3 441.1,382.6 422.5,374.9 420.4,380"/><polygon points="415.1,362.9 437,360.6 434.9,365.6 453.4,373.3 449.6,382.6 431.1,374.9 429,380"/><polygon points="423.6,362.9 445.5,360.6 443.4,365.6 462,373.3 458.1,382.6 439.6,374.9 437.5,380"/><polygon points="432.2,362.9 454.1,360.6 452,365.6 470.5,373.3 466.7,382.6 448.1,374.9 446,380"/><polygon points="440.7,343.9 462.6,341.6 460.5,346.7 479,354.4 475.2,363.6 456.7,355.9 454.6,361"/><polygon points="449.2,334.5 471.1,332.2 469,337.2 487.6,344.9 483.7,354.2 465.2,346.5 463.1,351.6"/><polygon points="457.8,334.5 479.7,332.2 477.6,337.2 496.1,344.9 492.3,354.2 473.7,346.5 471.6,351.6"/><polygon points="466.3,325 488.2,322.7 486.1,327.8 504.6,335.4 500.8,344.7 482.3,337 480.2,342.1"/><polygon points="474.9,325 496.8,322.7 494.6,327.8 513.2,335.4 509.3,344.7 490.8,337 488.7,342.1"/><polygon points="483.4,334.5 505.3,332.2 503.2,337.2 521.7,344.9 517.9,354.2 499.4,346.5 497.3,351.6"/><polygon points="490.4,342 509.8,331.5 509.8,337 529.8,337 529.8,347 509.8,347 509.8,352.5"/><polygon points="499,332.6 518.3,322.1 518.3,327.6 538.4,327.6 538.4,337.6 518.3,337.6 518.3,343.1"/><polygon points="507.5,342 526.8,331.5 526.8,337 546.9,337 546.9,347 526.8,347 526.8,352.5"/><polygon points="517.5,359.1 531.4,342 533.5,347.1 552,339.4 555.8,348.6 537.3,356.3 539.4,361.4"/><polygon points="526.1,368.5 539.9,351.4 542,356.5 560.6,348.8 564.4,358.1 545.9,365.8 548,370.8"/><polygon points="534.6,378 548.5,360.9 550.6,366 569.1,358.3 572.9,367.6 554.4,375.2 556.5,380.3"/><polygon points="543.1,387.5 557,370.4 559.1,375.5 577.6,367.8 581.5,377 562.9,384.7 565,389.8"/><polygon points="550.2,370.4 569.5,359.9 569.5,365.4 589.6,365.4 589.6,375.4 569.5,375.4 569.5,380.9"/><polygon points="570.9,352.1 588,366 583,368.1 590.6,386.6 581.4,390.5 573.7,371.9 568.6,374"/><polygon points="579.5,352.1 596.6,366 591.5,368.1 599.2,386.6 589.9,390.5 582.2,371.9 577.2,374"/><polygon points="581.6,356.4 602.7,362.7 598.8,366.6 613,380.8 605.9,387.8 591.7,373.7 587.8,377.5"/><polygon points="585.8,343.9 607.7,341.6 605.6,346.7 624.1,354.4 620.3,363.6 601.8,355.9 599.7,361"/><polygon points="594.4,343.9 616.3,341.6 614.1,346.7 632.7,354.4 628.8,363.6 610.3,355.9 608.2,361"/><polygon points="601.4,351.5 620.7,341 620.7,346.5 640.8,346.5 640.8,356.5 620.7,356.5 620.7,362"/><polygon points="609.9,361 629.3,350.5 629.3,356 649.3,356 649.3,366 629.3,366 629.3,371.5"/><polygon points="618.5,361 637.8,350.5 637.8,356 657.9,356 657.9,366 637.8,366 637.8,371.5"/><polygon points="628.5,368.5 642.4,351.4 644.5,356.5 663,348.8 666.8,358.1 648.3,365.8 650.4,370.8"/><polygon points="641.3,375 647.6,353.9 651.5,357.7 665.6,343.6 672.7,350.6 658.5,364.8 662.4,368.7"/><polygon points="663.9,371.3 653.4,351.9 658.9,351.9 658.9,331.9 668.9,331.9 668.9,351.9 674.4,351.9"/><polygon points="680,360.3 662.9,346.5 667.9,344.4 660.3,325.8 669.5,322 677.2,340.5 682.3,338.4"/><polygon points="694.9,356 673.8,349.8 677.7,345.9 663.5,331.7 670.6,324.6 684.8,338.8 688.7,334.9"/><polygon points="707.8,340.1 685.9,342.4 688,337.4 669.4,329.7 673.3,320.4 691.8,328.1 693.9,323"/><polygon points="716.3,349.6 694.4,351.9 696.5,346.8 678,339.2 681.8,329.9 700.3,337.6 702.4,332.5"/><polygon points="726.3,351.5 707,362 707,356.5 686.9,356.5 686.9,346.5 707,346.5 707,341"/><polygon points="734.9,361 715.5,371.5 715.5,366 695.5,366 695.5,356 715.5,356 715.5,350.5"/><polygon points="743.4,370.4 724.1,380.9 724.1,375.4 704,375.4 704,365.4 724.1,365.4 724.1,359.9"/><polygon points="751.9,370.4 732.6,380.9 732.6,375.4 712.5,375.4 712.5,365.4 732.6,365.4 732.6,359.9"/><polygon points="760.5,379.9 741.1,390.4 741.1,384.9 721.1,384.9 721.1,374.9 741.1,374.9 741.1,369.4"/><polygon points="767.5,372.3 753.7,389.4 751.5,384.3 733,392 729.2,382.8 747.7,375.1 745.6,370"/><polygon points="776,372.3 762.2,389.4 760.1,384.3 741.6,392 737.7,382.8 756.3,375.1 754.2,370"/><polygon points="784.6,372.3 770.7,389.4 768.6,384.3 750.1,392 746.3,382.8 764.8,375.1 762.7,370"/><polygon points="793.1,372.3 779.3,389.4 777.2,384.3 758.6,392 754.8,382.8 773.3,375.1 771.2,370"/><polygon points="801.7,362.9 787.8,380 785.7,374.9 767.2,382.6 763.3,373.3 781.9,365.6 779.8,360.6"/><polygon points="810.2,362.9 796.3,380 794.2,374.9 775.7,382.6 771.9,373.3 790.4,365.6 788.3,360.6"/><polygon points="818.7,353.4 804.9,370.5 802.8,365.4 784.2,373.1 780.4,363.8 798.9,356.2 796.8,351.1"/><polygon points="827.3,343.9 813.4,361 811.3,355.9 792.8,363.6 788.9,354.4 807.5,346.7 805.4,341.6"/><polygon points="835.8,325 821.9,342.1 819.8,337 801.3,344.7 797.5,335.4 816,327.8 813.9,322.7"/><polygon points="844.3,315.5 830.5,332.6 828.4,327.5 809.8,335.2 806,326 824.5,318.3 822.4,313.2"/><polygon points="852.9,325 839,342.1 836.9,337 818.4,344.7 814.6,335.4 833.1,327.8 831,322.7"/><polygon points="861.4,334.5 847.5,351.6 845.4,346.5 826.9,354.2 823.1,344.9 841.6,337.2 839.5,332.2"/><polygon points="869.9,343.9 856.1,361 854,355.9 835.5,363.6 831.6,354.4 850.1,346.7 848,341.6"/><polygon points="874.2,356.4 867.9,377.5 864,373.7 849.9,387.8 842.8,380.8 857,366.6 853.1,362.7"/><polygon points="882.7,356.4 876.5,377.5 872.6,373.7 858.4,387.8 851.3,380.8 865.5,366.6 861.6,362.7"/><polygon points="884.8,352.1 887.1,374 882,371.9 874.4,390.5 865.1,386.6 872.8,368.1 867.7,366"/><polygon points="885.8,350.6 896.3,370 890.8,370 890.8,390 880.8,390 880.8,370 875.3,370"/><polygon points="894.3,350.6 904.8,370 899.3,370 899.3,390 889.3,390 889.3,370 883.8,370"/><polygon points="895.3,361.6 912.4,375.5 907.3,377.6 915,396.1 905.7,399.9 898.1,381.4 893,383.5"/><polygon points="903.8,361.6 920.9,375.5 915.8,377.6 923.5,396.1 914.3,399.9 906.6,381.4 901.5,383.5"/><polygon points="905.9,365.9 927,372.2 923.1,376 937.3,390.2 930.3,397.3 916.1,383.1 912.2,387"/><polygon points="914.5,356.4 935.6,362.7 931.7,366.6 945.9,380.8 938.8,387.8 924.6,373.7 920.7,377.5"/><polygon points="929.4,352.1 946.5,366 941.4,368.1 949.1,386.6 939.9,390.5 932.2,371.9 927.1,374"/><polygon points="945.5,350.6 956,370 950.5,370 950.5,390 940.5,390 940.5,370 935,370"/><polygon points="961.6,342.7 963.9,364.6 958.9,362.5 951.2,381 942,377.2 949.6,358.6 944.5,356.5"/><polygon points="970.2,333.2 972.5,355.1 967.4,353 959.7,371.5 950.5,367.7 958.2,349.2 953.1,347.1"/><polygon points="978.7,342.7 981,364.6 975.9,362.5 968.3,381 959,377.2 966.7,358.6 961.6,356.5"/><polygon points="993.7,347 987.4,368.1 983.5,364.2 969.4,378.4 962.3,371.3 976.5,357.1 972.6,353.2"/><polygon points="1002.2,347 996,368.1 992.1,364.2 977.9,378.4 970.8,371.3 985,357.1 981.1,353.2"/><polygon points="1010.8,356.4 1004.5,377.5 1000.6,373.7 986.4,387.8 979.4,380.8 993.5,366.6 989.6,362.7"/><polygon points="1012.9,342.7 1015.2,364.6 1010.1,362.5 1002.4,381 993.2,377.2 1000.8,358.6 995.8,356.5"/><polygon points="1013.8,341.2 1024.3,360.5 1018.8,360.5 1018.8,380.6 1008.8,380.6 1008.8,360.5 1003.3,360.5"/></g>
</svg></body></html>
